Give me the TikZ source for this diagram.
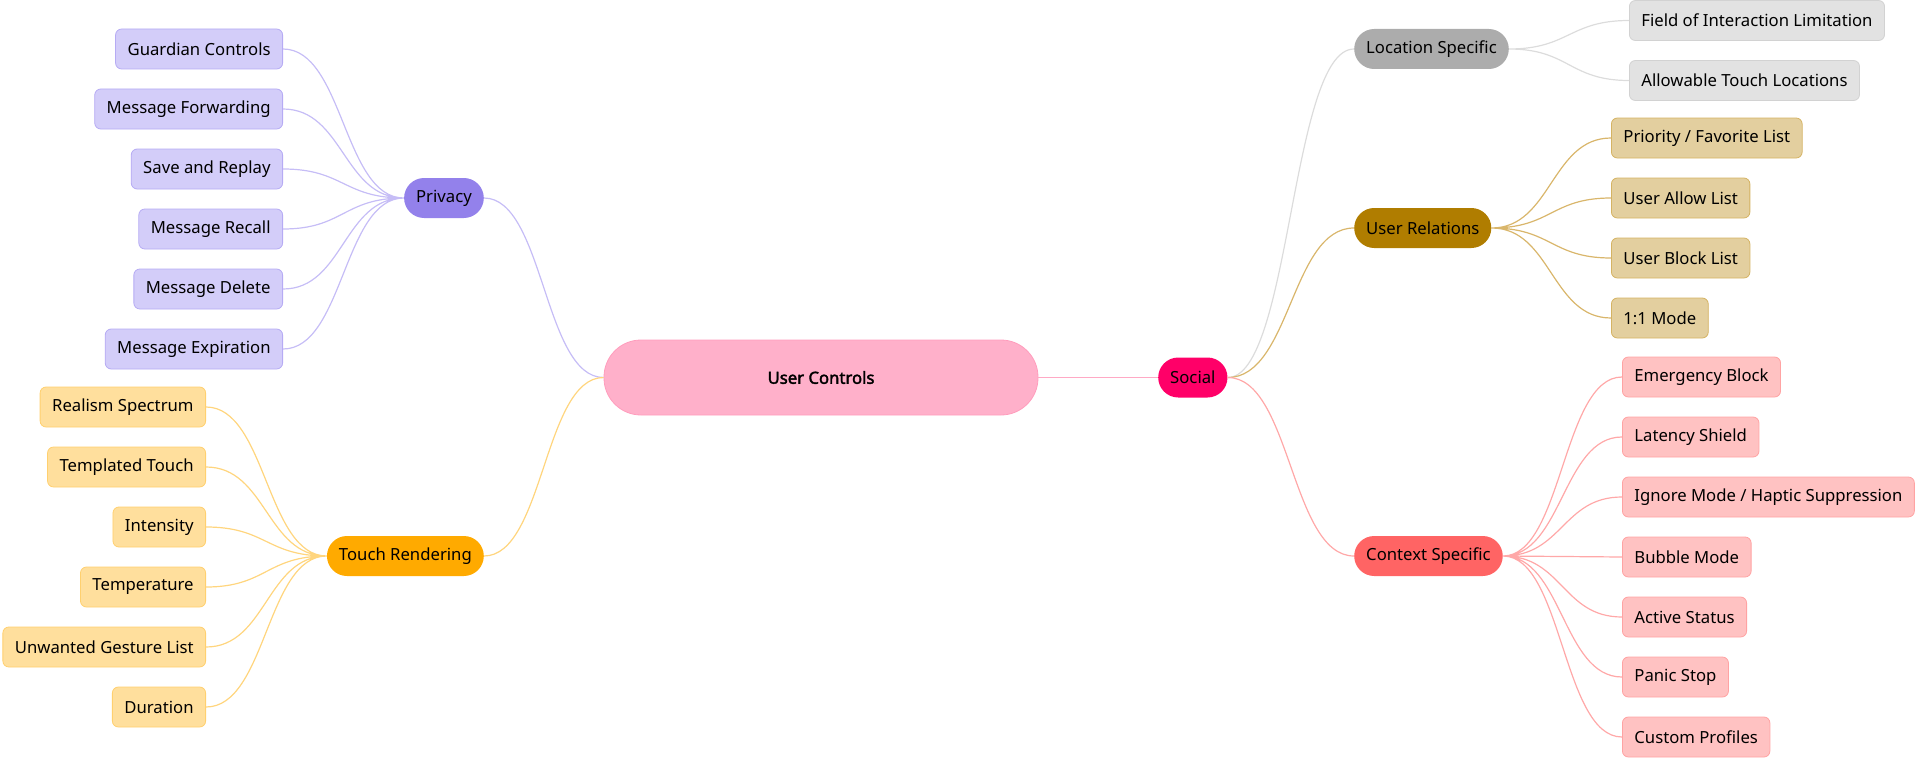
\documentclass[tikz,border=0pt]{standalone}
\usepackage{fontspec}
\setmainfont{Noto Sans}[AutoFakeBold=2.2]
\usepackage{tikz}
\usetikzlibrary{positioning,calc}
\definecolor{rootfill}{HTML}{FFB0CA}
\definecolor{rootrule}{HTML}{FF9DBD}
\definecolor{rootline}{HTML}{FFA9C5}
\definecolor{socialfill}{HTML}{FF0068}
\definecolor{privhub}{HTML}{9381EB}
\definecolor{privleaf}{HTML}{D3CDF9}
\definecolor{privrule}{HTML}{B6ABF4}
\definecolor{privline}{HTML}{C6BDF6}
\definecolor{touchhub}{HTML}{FFAA00}
\definecolor{touchleaf}{HTML}{FFDF9D}
\definecolor{touchrule}{HTML}{FFD06F}
\definecolor{touchline}{HTML}{FFD57E}
\definecolor{lochub}{HTML}{ACACAC}
\definecolor{locleaf}{HTML}{E2E2E2}
\definecolor{locrule}{HTML}{D2D2D2}
\definecolor{locline}{HTML}{DCDCDC}
\definecolor{relhub}{HTML}{B07D00}
\definecolor{relleaf}{HTML}{E3CF9F}
\definecolor{relrule}{HTML}{D5B363}
\definecolor{relline}{HTML}{D9B66B}
\definecolor{ctxhub}{HTML}{FF6464}
\definecolor{ctxleaf}{HTML}{FFC2C2}
\definecolor{ctxrule}{HTML}{FFA3A3}
\definecolor{ctxline}{HTML}{FFA8A8}

\begin{document}
\begin{tikzpicture}[x=1pt, y=-1pt, font=\fontsize{16.7}{20}\selectfont,
  hub/.style={fill=#1, rounded corners=20pt, minimum height=40pt, inner xsep=12pt},
  leaf/.style={fill=#1, rounded corners=6pt, minimum height=40pt, inner xsep=12pt, line width=0.8pt},
  pleaf/.style={leaf=privleaf, draw=privrule},
  tleaf/.style={leaf=touchleaf, draw=touchrule},
  lleaf/.style={leaf=locleaf, draw=locrule},
  rleaf/.style={leaf=relleaf, draw=relrule},
  cleaf/.style={leaf=ctxleaf, draw=ctxrule},
  link/.style={draw=#1, line width=1.2pt,
    to path={let \p1=(\tikztostart), \p2=(\tikztotarget) in
      .. controls ({(\x1+\x2)/2},\y1) and ({(\x1+\x2)/2},\y2) .. (\tikztotarget) \tikztonodes}}]
  \useasboundingbox (0,0) rectangle (1920,760);
  % centre and first level
  \node[fill=rootfill, draw=rootrule, line width=0.8pt, rounded corners=37pt, minimum width=434pt, minimum height=75pt] (root) at (821,377.5) {\bfseries User Controls};
  \node[hub=socialfill, anchor=west] (social) at (1158,377.5) {Social};
  \node[hub=privhub, anchor=east] (priv) at (484,198) {Privacy};
  \node[hub=touchhub, anchor=east] (touch) at (484,556) {Touch Rendering};
  \node[hub=lochub, anchor=west] (loc) at (1354,49) {Location Specific};
  \node[hub=relhub, anchor=west] (rel) at (1354,228) {User Relations};
  \node[hub=ctxhub, anchor=west] (ctx) at (1354,556) {Context Specific};
  % privacy leaves
  \node[pleaf, anchor=east] (guard) at (283,49) {Guardian Controls};
  \node[pleaf, below=19.2pt of guard.south east, anchor=north east] (fwd) {Message Forwarding};
  \node[pleaf, below=19.2pt of fwd.south east, anchor=north east] (replay) {Save and Replay};
  \node[pleaf, below=19.2pt of replay.south east, anchor=north east] (recall) {Message Recall};
  \node[pleaf, below=19.2pt of recall.south east, anchor=north east] (delete) {Message Delete};
  \node[pleaf, below=19.2pt of delete.south east, anchor=north east] (expire) {Message Expiration};
  % touch leaves
  \node[tleaf, anchor=east] (realism) at (206,407) {Realism Spectrum};
  \node[tleaf, below=19.2pt of realism.south east, anchor=north east] (templ) {Templated Touch};
  \node[tleaf, below=19.2pt of templ.south east, anchor=north east] (intens) {Intensity};
  \node[tleaf, below=19.2pt of intens.south east, anchor=north east] (temp) {Temperature};
  \node[tleaf, below=19.2pt of temp.south east, anchor=north east] (gesture) {Unwanted Gesture List};
  \node[tleaf, below=19.2pt of gesture.south east, anchor=north east] (dur) {Duration};
  % location leaves
  \node[lleaf, anchor=west] (field) at (1629,20.5) {Field of Interaction Limitation};
  \node[lleaf, below=19.2pt of field.south west, anchor=north west] (allow) {Allowable Touch Locations};
  % relation leaves
  \node[rleaf, anchor=west] (prio) at (1611,138) {Priority / Favorite List};
  \node[rleaf, below=19.2pt of prio.south west, anchor=north west] (allowlist) {User Allow List};
  \node[rleaf, below=19.2pt of allowlist.south west, anchor=north west] (blocklist) {User Block List};
  \node[rleaf, below=19.2pt of blocklist.south west, anchor=north west] (oneone) {1:1 Mode};
  % context leaves
  \node[cleaf, anchor=west] (emerg) at (1622,377) {Emergency Block};
  \node[cleaf, below=19.2pt of emerg.south west, anchor=north west] (latency) {Latency Shield};
  \node[cleaf, below=19.2pt of latency.south west, anchor=north west] (ignore) {Ignore Mode / Haptic Suppression};
  \node[cleaf, below=19.2pt of ignore.south west, anchor=north west] (bubble) {Bubble Mode};
  \node[cleaf, below=19.2pt of bubble.south west, anchor=north west] (active) {Active Status};
  \node[cleaf, below=19.2pt of active.south west, anchor=north west] (panic) {Panic Stop};
  \node[cleaf, below=19.2pt of panic.south west, anchor=north west] (custom) {Custom Profiles};
  % branches
  \draw[link=rootline] (root.east) -- (social.west);
  \draw[link=privline] (root.west) to (priv.east);
  \draw[link=touchline] (root.west) to (touch.east);
  \draw[link=locline] (social.east) to (loc.west);
  \draw[link=relline] (social.east) to (rel.west);
  \draw[link=ctxline] (social.east) to (ctx.west);
  \draw[link=privline] (priv.west) to (guard.east) (priv.west) to (fwd.east)
    (priv.west) to (replay.east) (priv.west) to (recall.east)
    (priv.west) to (delete.east) (priv.west) to (expire.east);
  \draw[link=touchline] (touch.west) to (realism.east) (touch.west) to (templ.east)
    (touch.west) to (intens.east) (touch.west) to (temp.east)
    (touch.west) to (gesture.east) (touch.west) to (dur.east);
  \draw[link=locline] (loc.east) to (field.west) (loc.east) to (allow.west);
  \draw[link=relline] (rel.east) to (prio.west) (rel.east) to (allowlist.west)
    (rel.east) to (blocklist.west) (rel.east) to (oneone.west);
  \draw[link=ctxline] (ctx.east) to (emerg.west) (ctx.east) to (latency.west)
    (ctx.east) to (ignore.west) (ctx.east) to (bubble.west)
    (ctx.east) to (active.west) (ctx.east) to (panic.west)
    (ctx.east) to (custom.west);
\end{tikzpicture}
\end{document}
